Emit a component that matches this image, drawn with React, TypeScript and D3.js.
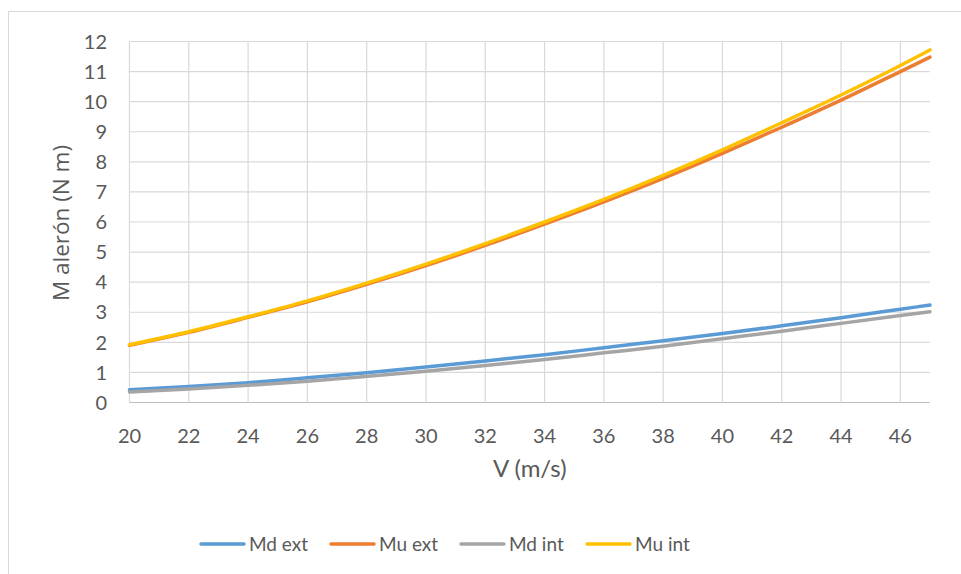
import React from "react";
import * as d3 from "d3";

const V = [20, 22, 24, 26, 28, 30, 32, 34, 36, 38, 40, 42, 44, 46, 47];
const mdExt = [0.42, 0.53, 0.66, 0.82, 0.99, 1.18, 1.38, 1.59, 1.82, 2.05, 2.29, 2.55, 2.82, 3.1, 3.24];
const muExt = [1.9, 2.33, 2.83, 3.35, 3.93, 4.55, 5.22, 5.93, 6.67, 7.45, 8.28, 9.15, 10.05, 11.0, 11.48];
const mdInt = [0.35, 0.45, 0.57, 0.71, 0.87, 1.04, 1.23, 1.43, 1.65, 1.87, 2.12, 2.37, 2.63, 2.89, 3.02];
const muInt = [1.92, 2.35, 2.85, 3.38, 3.97, 4.6, 5.28, 6.0, 6.75, 7.55, 8.4, 9.3, 10.22, 11.2, 11.72];

const seriesNames = ["Md ext", "Mu ext", "Md int", "Mu int"];
const seriesColors = ["#5b9bd5", "#ed7d31", "#a5a5a5", "#ffc000"];
const seriesData = [mdExt, muExt, mdInt, muInt];

const xTicks = [20, 22, 24, 26, 28, 30, 32, 34, 36, 38, 40, 42, 44, 46];
const yTicks = [0, 1, 2, 3, 4, 5, 6, 7, 8, 9, 10, 11, 12];

const xTitle = "V (m/s)";
const yTitle = "M alerón (N m)";

export default function App() {
  const W = 961, H = 574;
  const left = 129.5, right = 930, top = 41.5, bottom = 402.5;
  const x = d3.scaleLinear().domain([20, 47]).range([left, right]);
  const y = d3.scaleLinear().domain([0, 12]).range([bottom, top]);
  const font = "Lato, 'Open Sans', sans-serif";
  const textColor = "#595959";

  const line = (vals: number[]) =>
    d3
      .line<number>()
      .x((_, i) => x(V[i]))
      .y((d) => y(d))
      .curve(d3.curveMonotoneX)(vals) || "";

  const legendX = [200, 330, 460, 586];

  return (
    <svg
      width={W}
      height={H}
      style={{ position: "absolute", left: 0, top: 0, background: "#fff" }}
    >
      <rect x={8.5} y={11.5} width={W} height={H} fill="#fff" stroke="#d9d9d9" strokeWidth={1} />
      {yTicks.map((t) => (
        <line key={"h" + t} x1={left} x2={right} y1={y(t)} y2={y(t)} stroke={t === 0 ? "#bfbfbf" : "#d9d9d9"} strokeWidth={1.2} />
      ))}
      {xTicks.map((t) => (
        <line key={"v" + t} x1={x(t)} x2={x(t)} y1={top} y2={bottom} stroke="#d9d9d9" strokeWidth={1.2} />
      ))}
      {yTicks.map((t) => (
        <text key={"yt" + t} x={107} y={y(t)} dy="0.36em" textAnchor="end" fontFamily={font} fontSize={20} fill={textColor}>
          {t}
        </text>
      ))}
      {xTicks.map((t) => (
        <text key={"xt" + t} x={x(t)} y={443} textAnchor="middle" fontFamily={font} fontSize={20} fill={textColor}>
          {t}
        </text>
      ))}
      <text x={(left + right) / 2} y={477} textAnchor="middle" fontFamily={font} fontSize={24} fill={textColor}>
        {xTitle}
      </text>
      <text
        transform={`translate(69,223) rotate(-90)`}
        textAnchor="middle"
        fontFamily="'Open Sans', sans-serif"
        fontSize={22.5}
        fill={textColor}
      >
        {yTitle}
      </text>
      {seriesData.map((vals, i) => (
        <path key={"s" + i} d={line(vals)} fill="none" stroke={seriesColors[i]} strokeWidth={3.5} strokeLinecap="round" strokeLinejoin="round" />
      ))}
      {seriesNames.map((n, i) => (
        <g key={"l" + i}>
          <line x1={legendX[i] + 1} x2={legendX[i] + 44} y1={544} y2={544} stroke={seriesColors[i]} strokeWidth={3.5} strokeLinecap="round" />
          <text x={legendX[i] + 49} y={544} dy="0.36em" fontFamily={font} fontSize={19} fill={textColor}>
            {n}
          </text>
        </g>
      ))}
    </svg>
  );
}
